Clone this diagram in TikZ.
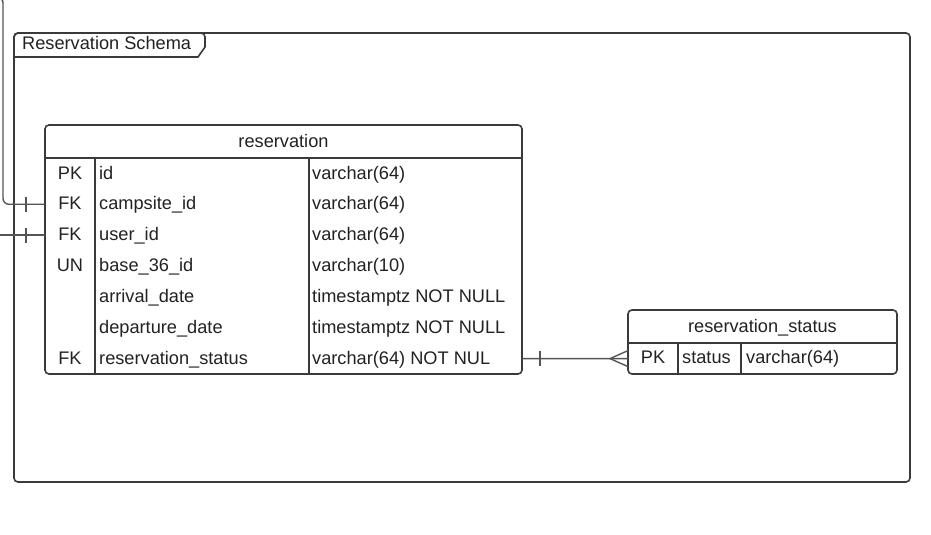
\documentclass[tikz,border=0pt]{standalone}
\usepackage{fontspec}
\setmainfont{Liberation Sans}
\usetikzlibrary{calc}
\definecolor{edge}{HTML}{3A3A3A}
\definecolor{conncol}{HTML}{555555}
\definecolor{txt}{HTML}{222222}
\begin{document}
\begin{tikzpicture}[x=1pt,y=-1pt,
  frame/.style={draw=edge,line width=1.6pt,rounded corners=4pt},
  tline/.style={draw=edge,line width=1.6pt},
  conn/.style={draw=conncol,line width=1.4pt},
  lbl/.style={inner sep=0pt,text=txt,font=\fontsize{18.2}{22}\selectfont},
  lw/.style={lbl,anchor=base west},
  lc/.style={lbl,anchor=base}]
\useasboundingbox (0,0) rectangle (931,535);
\fill[white] (0,0) rectangle (931,535);

% ---- schema frame ----
\draw[frame] (14,33) rectangle (910,482);
\draw[tline,rounded corners=4pt] (14,57) -- (14,33) -- (205,33) [sharp corners] -- (205,47) -- (198,57) -- (14,57);
\node[lw] (schema) at (22,49) {Reservation Schema};

% ---- reservation table ----
\draw[frame,fill=white] (45,125) rectangle (522,374);
\draw[tline] (45,158) -- (522,158);
\draw[tline] (95,158) -- (95,374);
\draw[tline] (309,158) -- (309,374);
\node[lc] (res-title) at (283.5,147) {reservation};
\foreach \i/\k/\n/\t in {1/PK/id/varchar(64),2/FK/campsite\_id/varchar(64),3/FK/user\_id/varchar(64),4/UN/base\_36\_id/varchar(10),5//arrival\_date/timestamptz NOT NULL,6//departure\_date/timestamptz NOT NULL,7/FK/reservation\_status/varchar(64) NOT NUL}{
  \pgfmathsetmacro{\yc}{158+(\i-0.5)*30.86}
  \node[lc] (res-k\i) at (70,\yc+5.6) {\k};
  \node[lw] (res-n\i) at (99,\yc+5.6) {\n};
  \node[lw] (res-t\i) at (312,\yc+5.6) {\t};
  \coordinate (res-r\i w) at (45,\yc);
  \coordinate (res-r\i e) at (522,\yc);
}

% ---- reservation_status table ----
\draw[frame,fill=white] (628,310) rectangle (897,374);
\draw[tline] (628,343) -- (897,343);
\draw[tline] (678,343) -- (678,374);
\draw[tline] (741,343) -- (741,374);
\node[lc] (st-title) at (762.5,332) {reservation\_status};
\node[lc] (st-k1) at (653,363.5) {PK};
\node[lw] (st-n1) at (682,363.5) {status};
\node[lw] (st-t1) at (746,363.5) {varchar(64)};
\coordinate (st-r1w) at (628,358.6);

% ---- connectors ----
\coordinate (in1) at (-8,-3);
\coordinate (in1b) at (3,0 |- res-r2w);
\draw[conn,rounded corners=6pt] (in1) -| (in1b) -- (res-r2w);
\draw[conn] ($(res-r2w)+(-19,-7.5)$) -- ($(res-r2w)+(-19,7.5)$);

\coordinate (in2) at (0,0 |- res-r3w);
\draw[conn] (in2) -- (res-r3w);
\draw[conn] ($(res-r3w)+(-19,-7.5)$) -- ($(res-r3w)+(-19,7.5)$);

\draw[conn] (res-r7e) -- (st-r1w);
\draw[conn] ($(res-r7e)+(18,-7.5)$) -- ($(res-r7e)+(18,7.5)$);
\draw[conn] ($(st-r1w)+(0,-8)$) -- ($(st-r1w)+(-18,0)$) -- ($(st-r1w)+(0,8)$);
\end{tikzpicture}
\end{document}
